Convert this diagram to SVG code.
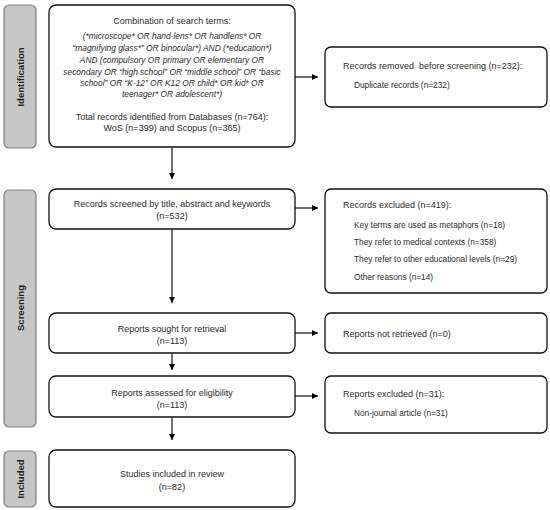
<svg xmlns="http://www.w3.org/2000/svg" width="550" height="510" viewBox="0 0 550 510">
<defs>
<marker id="ah" viewBox="0 0 6 6" refX="6" refY="3" markerWidth="6" markerHeight="6" markerUnits="userSpaceOnUse" orient="auto">
<path d="M0,0 L6,3 L0,6 z" fill="#000"/>
</marker>
<style>
.lab{fill:#c6c6c6;stroke:#808080;stroke-width:1.2}
.lt{font-family:"Liberation Sans",Arial,sans-serif;font-size:9.5px;font-weight:bold;fill:#222;text-anchor:middle}
.box{fill:#fff;stroke:#111;stroke-width:1.3}
.t{font-family:"Liberation Sans",Arial,sans-serif;font-size:9px;fill:#2a2a2a}
.r{font-size:8.3px}
.c{text-anchor:middle}
.i{font-style:italic;font-size:8.4px}
.con{stroke:#111;stroke-width:1.2;fill:none;marker-end:url(#ah)}
</style>
</defs>
<rect width="550" height="510" fill="#fff"/>
<g id="label-identification"><rect class="lab" x="4" y="5" width="32" height="143" rx="5"/><text class="lt" transform="translate(23.5,77) rotate(-90)">Identification</text></g>
<g id="label-screening"><rect class="lab" x="4" y="190" width="32" height="237" rx="5"/><text class="lt" transform="translate(23.5,308) rotate(-90)">Screening</text></g>
<g id="label-included"><rect class="lab" x="4" y="451" width="32" height="56" rx="5"/><text class="lt" transform="translate(23.5,479) rotate(-90)">Included</text></g>

<g id="identification">
<rect class="box" x="49" y="5" width="246" height="142" rx="7"/>
<text class="t c" x="172" y="24">Combination of search terms:</text>
<text class="t c i" x="172" y="39">(*microscope* OR hand-lens* OR handlens* OR</text>
<text class="t c i" x="172" y="51">“magnifying glass*” OR binocular*) AND (*education*)</text>
<text class="t c i" x="172" y="63">AND (compulsory OR primary OR elementary OR</text>
<text class="t c i" x="172" y="75">secondary OR “high school” OR “middle school” OR “basic</text>
<text class="t c i" x="172" y="86">school” OR “K-12” OR K12 OR child* OR kid* OR</text>
<text class="t c i" x="172" y="97">teenager* OR adolescent*)</text>
<text class="t c" x="172" y="120">Total records identified from Databases (n=764):</text>
<text class="t c" x="172" y="131">WoS (n=399) and Scopus (n=365)</text>
</g>
<g id="removed">
<rect class="box" x="325" y="47" width="222" height="60" rx="6"/>
<text class="t" x="343" y="69" xml:space="preserve">Records removed  before screening (n=232):</text>
<text class="t r" x="354" y="88">Duplicate records (n=232)</text>
</g>
<g id="screened">
<rect class="box" x="49" y="189" width="246" height="40" rx="7"/>
<text class="t c" x="172" y="207">Records screened by title, abstract and keywords</text>
<text class="t c" x="172" y="219">(n=532)</text>
</g>
<g id="excluded">
<rect class="box" x="325" y="189" width="222" height="104" rx="6"/>
<text class="t" x="343" y="208">Records excluded (n=419):</text>
<text class="t r" x="354" y="228">Key terms are used as metaphors (n=18)</text>
<text class="t r" x="354" y="245">They refer to medical contexts (n=358)</text>
<text class="t r" x="354" y="262">They refer to other educational levels (n=29)</text>
<text class="t r" x="354" y="280">Other reasons (n=14)</text>
</g>
<g id="sought">
<rect class="box" x="49" y="313" width="246" height="40" rx="7"/>
<text class="t c" x="172" y="332">Reports sought for retrieval</text>
<text class="t c" x="172" y="344">(n=113)</text>
</g>
<g id="not-retrieved">
<rect class="box" x="325" y="313" width="222" height="40" rx="6"/>
<text class="t" x="343" y="337">Reports not retrieved (n=0)</text>
</g>
<g id="assessed">
<rect class="box" x="49" y="376" width="246" height="41" rx="7"/>
<text class="t c" x="172" y="396">Reports assessed for eligibility</text>
<text class="t c" x="172" y="408">(n=113)</text>
</g>
<g id="reports-excluded">
<rect class="box" x="325" y="376" width="222" height="57" rx="6"/>
<text class="t" x="343" y="397">Reports excluded (n=31):</text>
<text class="t r" x="354" y="416">Non-journal article (n=31)</text>
</g>
<g id="included">
<rect class="box" x="49" y="450" width="246" height="57" rx="7"/>
<text class="t c" x="172" y="477">Studies included in review</text>
<text class="t c" x="172" y="490">(n=82)</text>
</g>

<g id="connectors">
<line class="con" x1="172" y1="147" x2="172" y2="179"/>
<line class="con" x1="172" y1="229" x2="172" y2="303"/>
<line class="con" x1="172" y1="353" x2="172" y2="370"/>
<line class="con" x1="172" y1="417" x2="172" y2="440"/>
<line class="con" x1="295" y1="77" x2="318" y2="77"/>
<line class="con" x1="295" y1="208" x2="318" y2="208"/>
<line class="con" x1="295" y1="333" x2="318" y2="333"/>
<line class="con" x1="295" y1="396" x2="318" y2="396"/>
</g>
</svg>
